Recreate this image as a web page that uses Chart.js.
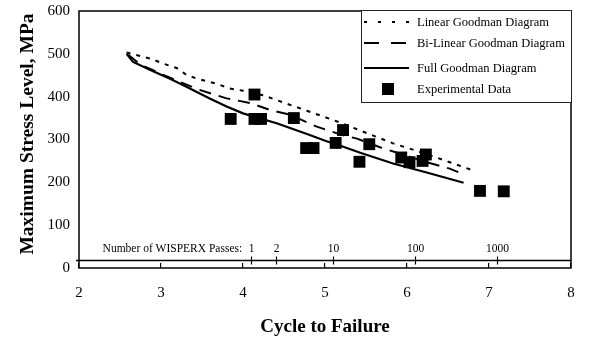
<!DOCTYPE html>
<html>
<head>
<meta charset="utf-8">
<script src="https://cdn.jsdelivr.net/npm/chart.js@4/dist/chart.umd.min.js"></script>
<style>
  html, body { margin: 0; padding: 0; background: #fff; }
  canvas { display: block; }
</style>
</head>
<body>
<canvas id="chart" width="607" height="339"></canvas>
<script>
// Linear Goodman diagram prediction (log cycles, MPa)
const linearCycles = [2.58, 2.87, 3.03, 3.19, 3.31, 3.44, 3.68, 3.84, 4.00, 4.25, 4.41, 4.78, 5.18, 5.43, 5.83, 6.24, 6.83];
const linearStress = [503, 489, 477, 467, 451, 442, 430, 419, 414, 403, 392, 367, 340, 321, 291, 266, 226];

// Bi-linear Goodman diagram prediction
const bilinearCycles = [2.60, 2.75, 3.05, 3.45, 3.80, 4.09, 4.33, 4.57, 4.90, 5.20, 5.39, 5.67, 6.24, 6.52, 6.70];
const bilinearStress = [498, 475, 449, 417, 396, 385, 369, 358, 330, 311, 302, 282, 247, 232, 218];

// Full Goodman diagram prediction
const fullCycles = [2.58, 2.66, 2.87, 3.11, 3.31, 3.60, 3.80, 4.00, 4.41, 4.78, 5.02, 5.18, 5.43, 5.83, 6.24, 6.69];
const fullStress = [500, 481, 462, 442, 423, 395, 377, 361, 338, 313, 296, 286, 269, 244, 223, 199];

// Experimental fatigue results
const expCycles = [3.85, 4.14, 4.14, 4.22, 4.62, 4.77, 4.86, 5.13, 5.22, 5.42, 5.54, 5.93, 6.03, 6.19, 6.23, 6.89, 7.18];
const expStress = [348, 405, 348, 348, 350, 280, 280, 292, 322, 248, 289, 258, 247, 250, 265, 180, 179];

// Secondary scale: WISPERX passes (one pass = 10^4.1 cycles)
const passCounts = [1, 2, 10, 100, 1000];
const passOrigin = 4.1;
const passLevel = 19;

const yTicks = [0, 100, 200, 300, 400, 500, 600];
const xTicks = [2, 3, 4, 5, 6, 7, 8];

const SERIF = '"Liberation Serif", "Times New Roman", Times, serif';
Chart.defaults.font.family = SERIF;
Chart.defaults.color = '#000';

const pts = (xs, ys) => xs.map((v, i) => ({ x: v, y: ys[i] }));

const legendItems = [
  { label: 'Linear Goodman Diagram', kind: 'line', dash: [3, 11] },
  { label: 'Bi-Linear Goodman Diagram', kind: 'line', dash: [15, 12] },
  { label: 'Full Goodman Diagram', kind: 'line', dash: [] },
  { label: 'Experimental Data', kind: 'square' }
];
const legendRows = [12, 33, 58, 79];

const overlay = {
  id: 'overlay',
  afterDatasetsDraw(chart) {
    const { ctx, chartArea: a, scales: { x, y } } = chart;
    ctx.save();
    ctx.strokeStyle = '#000';
    ctx.fillStyle = '#000';
    ctx.setLineDash([]);

    // plot frame
    ctx.lineWidth = 1.5;
    ctx.strokeRect(a.left, a.top, a.right - a.left, a.bottom - a.top);

    // passes scale
    const py = Math.round(y.getPixelForValue(passLevel)) + 0.5;
    ctx.lineWidth = 1.5;
    ctx.beginPath();
    ctx.moveTo(a.left - 3, py);
    ctx.lineTo(a.right, py);
    ctx.stroke();
    ctx.font = '11.5px ' + SERIF;
    ctx.textAlign = 'center';
    ctx.textBaseline = 'alphabetic';
    ctx.lineWidth = 1.2;
    passCounts.forEach(n => {
      const px = Math.round(x.getPixelForValue(passOrigin + Math.log10(n))) + 0.5;
      ctx.beginPath();
      ctx.moveTo(px, py - 4);
      ctx.lineTo(px, py + 4);
      ctx.stroke();
      ctx.fillText(String(n), px, py - 9);
    });
    ctx.textAlign = 'right';
    ctx.fillText('Number of WISPERX Passes:', x.getPixelForValue(passOrigin) - 9, py - 9);

    // legend box
    const bw = 210, bh = 92;
    const bx = a.right - bw, by = a.top - 1;
    ctx.fillStyle = '#fff';
    ctx.fillRect(bx, by, bw, bh);
    ctx.strokeStyle = '#222';
    ctx.lineWidth = 1;
    ctx.strokeRect(bx + 0.5, by + 0.5, bw, bh);
    ctx.fillStyle = '#000';
    ctx.strokeStyle = '#000';
    ctx.font = '12.5px ' + SERIF;
    ctx.textAlign = 'left';
    ctx.textBaseline = 'middle';
    legendItems.forEach((it, i) => {
      const ry = by + legendRows[i];
      if (it.kind === 'line') {
        ctx.lineWidth = 2;
        ctx.setLineDash(it.dash);
        ctx.beginPath();
        ctx.moveTo(bx + 3, ry);
        ctx.lineTo(bx + 48, ry);
        ctx.stroke();
        ctx.setLineDash([]);
      } else {
        ctx.fillRect(bx + 21, ry - 6, 12, 12);
      }
      ctx.fillText(it.label, bx + 56, ry + 1);
    });

    // vertical axis title
    ctx.save();
    ctx.translate(28, 134);
    ctx.rotate(-Math.PI / 2);
    ctx.font = 'bold 19.5px ' + SERIF;
    ctx.textAlign = 'center';
    ctx.textBaseline = 'middle';
    ctx.fillText('Maximum Stress Level, MPa', 0, 0);
    ctx.restore();

    ctx.restore();
  }
};

new Chart(document.getElementById('chart'), {
  type: 'scatter',
  data: {
    datasets: [
      {
        label: 'Linear Goodman Diagram',
        type: 'line',
        data: pts(linearCycles, linearStress),
        borderColor: '#000',
        borderWidth: 2,
        borderDash: [4, 6],
        pointRadius: 0,
        tension: 0,
        fill: false
      },
      {
        label: 'Bi-Linear Goodman Diagram',
        type: 'line',
        data: pts(bilinearCycles, bilinearStress),
        borderColor: '#000',
        borderWidth: 2,
        borderDash: [12, 8],
        pointRadius: 0,
        tension: 0,
        fill: false
      },
      {
        label: 'Full Goodman Diagram',
        type: 'line',
        data: pts(fullCycles, fullStress),
        borderColor: '#000',
        borderWidth: 2.2,
        pointRadius: 0,
        tension: 0,
        fill: false
      },
      {
        label: 'Experimental Data',
        data: pts(expCycles, expStress),
        pointStyle: 'rect',
        pointRadius: 8.4,
        pointBackgroundColor: '#000',
        pointBorderColor: '#000',
        pointBorderWidth: 0
      }
    ]
  },
  options: {
    responsive: false,
    animation: false,
    devicePixelRatio: 1,
    layout: { padding: { top: 11, right: 36, left: 0, bottom: 0 } },
    plugins: {
      legend: { display: false },
      tooltip: { enabled: false }
    },
    scales: {
      x: {
        type: 'linear',
        min: xTicks[0],
        max: xTicks[xTicks.length - 1],
        afterBuildTicks: s => { s.ticks = xTicks.map(v => ({ value: v })); },
        ticks: { font: { size: 15 }, color: '#000', padding: 21 },
        grid: { drawOnChartArea: false, drawTicks: true, tickLength: -5, color: '#000', lineWidth: 1.2 },
        border: { display: false },
        title: {
          display: true,
          text: 'Cycle to Failure',
          font: { size: 19, weight: 'bold' },
          color: '#000',
          padding: { top: 0, bottom: 1 }
        },
        afterFit: s => { s.height = 71; s.paddingLeft = 0; s.paddingRight = 0; }
      },
      y: {
        min: yTicks[0],
        max: yTicks[yTicks.length - 1],
        afterBuildTicks: s => { s.ticks = yTicks.map(v => ({ value: v })); },
        ticks: { font: { size: 15 }, color: '#000', padding: 9 },
        grid: { display: false, drawTicks: false },
        border: { display: false },
        title: { display: false },
        afterFit: s => { s.width = 79; s.paddingTop = 0; s.paddingBottom = 0; }
      }
    }
  },
  plugins: [overlay]
});
</script>
</body>
</html>
